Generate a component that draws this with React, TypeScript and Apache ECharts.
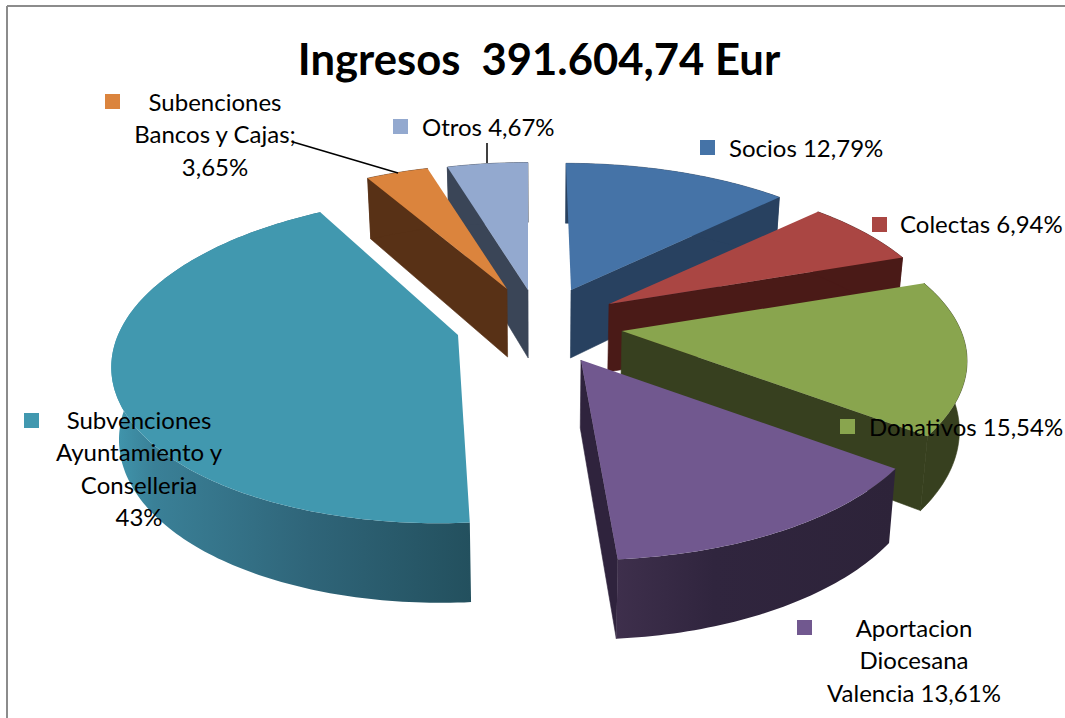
import React, { useEffect, useRef } from "react";
import * as echarts from "echarts";

const categories = ["Socios", "Colectas", "Donativos", "Aportacion Diocesana Valencia", "Subvenciones Ayuntamiento y Conselleria", "Subenciones Bancos y Cajas", "Otros"];
const values = [12.79, 6.94, 15.54, 13.61, 43, 3.65, 4.67];
const topColors = ["#4573A7", "#AA4643", "#89A54E", "#71588F", "#4198AF", "#DB843D", "#93A9CF"];
const wallColors = ["#284160", "#4A1A17", "#37401F", "#2F233D", "#2F6579", "#583116", "#3A4557"];
const drawOrder = [6, 5, 0, 1, 2, 3, 4];
const titleText = "Ingresos  391.604,74 Eur";

// exploded-slice geometry: tip of the slice, horizontal / vertical radius, perspective, skew, depth
const sliceGeometry = [
  { tx: 571, ty: 290, r: 336, ry: 152, k: 0.2, skew: 0.04, depth: 68 },
  { tx: 609, ty: 304, r: 331, ry: 151, k: 0.2, skew: 0, depth: 68 },
  { tx: 622, ty: 331, r: 339, ry: 155, k: 0.2, skew: -0.03, depth: 68 },
  { tx: 581, ty: 360, r: 343, ry: 160, k: 0.2, skew: 0.02, depth: 68 },
  { tx: 458, ty: 335, r: 340, ry: 160, k: 0.15, skew: -0.1, depth: 71 },
  { tx: 507, ty: 289, r: 328, ry: 150, k: 0.2, skew: 0, depth: 68 },
  { tx: 528, ty: 290, r: 333, ry: 153, k: 0.2, skew: 0, depth: 68 },
];

const labels = [
  { lines: ["Socios 12,79%"], x: 729, y: 147, align: "left", kx: 700, ky: 140, color: 0 },
  { lines: ["Colectas 6,94%"], x: 900, y: 223, align: "left", kx: 872, ky: 217, color: 1 },
  { lines: ["Donativos 15,54%"], x: 869, y: 426, align: "left", kx: 840, ky: 419, color: 2 },
  { lines: ["Aportacion", "Diocesana", "Valencia 13,61%"], x: 914, y: 627, align: "center", kx: 797, ky: 620, color: 3 },
  { lines: ["Subvenciones", "Ayuntamiento y", "Conselleria", "43%"], x: 139, y: 419, align: "center", kx: 24, ky: 413, color: 4 },
  { lines: ["Subenciones", "Bancos y Cajas;", "3,65%"], x: 215, y: 101, align: "center", kx: 105, ky: 94, color: 5 },
  { lines: ["Otros 4,67%"], x: 422, y: 126, align: "left", kx: 393, ky: 119, color: 6 },
];

const FONT = "Lato";
const FONT_SIZE = 24;
const LINE_H = 32.6;
const VANISH_X = 540;

const total = values.reduce((a, b) => a + b, 0);
const startAngles: number[] = [];
values.reduce((acc, v, i) => {
  startAngles[i] = (acc / total) * 2 * Math.PI;
  return acc + v;
}, 0);

function topPoint(i: number, phi: number) {
  const g = sliceGeometry[i];
  const s = 1 / (1 + g.k * Math.cos(phi));
  const dy = -g.ry * Math.cos(phi) * s;
  return { x: g.tx + g.r * Math.sin(phi) * s + g.skew * dy, y: g.ty + dy, s };
}
function drop(i: number, p: { x: number; y: number; s: number }) {
  const d = sliceGeometry[i].depth * Math.pow(p.s, 0.7);
  return [p.x - 0.018 * (p.x - VANISH_X), p.y + d];
}

function renderSlice(_params: any, api: any) {
  const i = api.value(0) as number;
  const g = sliceGeometry[i];
  const a0 = startAngles[i];
  const a1 = a0 + (api.value(1) / total) * 2 * Math.PI;
  const steps = Math.max(6, Math.round(((a1 - a0) * 180) / Math.PI));
  const arc: { x: number; y: number; s: number }[] = [];
  for (let n = 0; n <= steps; n++) arc.push(topPoint(i, a0 + ((a1 - a0) * n) / steps));
  const tip = { x: g.tx, y: g.ty, s: 1 };
  const children: any[] = [];
  const wall = wallColors[i];

  let wallFill: any = wall;
  if (i === 4) {
    wallFill = new echarts.graphic.LinearGradient(0, 0, 1, 0, [
      { offset: 0, color: "#4198AF" },
      { offset: 0.12, color: "#3A8097" },
      { offset: 0.55, color: "#2F6579" },
      { offset: 1, color: "#23505E" },
    ]);
  } else if (i === 3) {
    wallFill = new echarts.graphic.LinearGradient(0, 0, 1, 0, [
      { offset: 0, color: "#3E2F4C" },
      { offset: 0.35, color: "#30253E" },
      { offset: 1, color: "#2D2339" },
    ]);
  }

  const first = arc[0];
  const last = arc[arc.length - 1];
  const quad = (p: any) => ({
    type: "polygon",
    shape: { points: [[tip.x, tip.y], [p.x, p.y], drop(i, p), drop(i, tip)] },
    style: { fill: wall, stroke: wall, lineWidth: 0.6 },
  });
  if (first.x < tip.x - 10) children.push(quad(first));
  if (last.x > tip.x + 10) children.push(quad(last));
  children.push({
    type: "polygon",
    shape: { points: [...arc.map((p) => [p.x, p.y]), ...arc.slice().reverse().map((p) => drop(i, p))] },
    style: i === 3 || i === 4 ? { fill: wallFill } : { fill: wallFill, stroke: wall, lineWidth: 0.6 },
  });
  children.push({
    type: "polygon",
    shape: { points: [[tip.x, tip.y], ...arc.map((p) => [p.x, p.y])] },
    style: { fill: topColors[i] },
  });
  return { type: "group", children };
}

export default function App() {
  const ref = useRef<HTMLDivElement>(null);
  useEffect(() => {
    const chart = echarts.init(ref.current!, null, { renderer: "svg" });
    const graphics: any[] = [
      { type: "line", shape: { x1: 7, y1: 6, x2: 1065, y2: 6 }, style: { stroke: "#8C8C8C", lineWidth: 2 }, z: 1 },
      { type: "line", shape: { x1: 7, y1: 6, x2: 7, y2: 718 }, style: { stroke: "#8C8C8C", lineWidth: 2 }, z: 1 },
      { type: "line", shape: { x1: 293, y1: 142, x2: 398, y2: 173 }, style: { stroke: "#000", lineWidth: 1.5 }, z: 20 },
      { type: "line", shape: { x1: 487, y1: 143, x2: 487, y2: 163 }, style: { stroke: "#000", lineWidth: 1.5 }, z: 20 },
    ];
    labels.forEach((l) => {
      graphics.push({
        type: "rect",
        shape: { x: l.kx, y: l.ky, width: 15, height: 15 },
        style: { fill: topColors[l.color] },
        z: 20,
      });
      l.lines.forEach((t, n) => {
        graphics.push({
          type: "text",
          x: l.x,
          y: l.y + n * LINE_H,
          style: {
            text: t,
            font: `${FONT_SIZE}px ${FONT}`,
            fill: "#000",
            align: l.align,
            verticalAlign: "middle",
          },
          z: 20,
        });
      });
    });
    chart.setOption({
      animation: false,
      backgroundColor: "#fff",
      title: {
        text: titleText,
        left: 534,
        top: 31,
        textAlign: "center",
        textStyle: { fontFamily: FONT, fontWeight: "bold", fontSize: 43.6, color: "#000" },
      },
      graphic: graphics,
      series: [
        {
          type: "custom",
          coordinateSystem: "none",
          renderItem: renderSlice,
          data: drawOrder.map((i) => ({ name: categories[i], value: [i, values[i]] })),
        },
      ],
    });
    return () => chart.dispose();
  }, []);
  return <div ref={ref} style={{ position: "fixed", left: 0, top: 0, width: 1065, height: 718 }} />;
}
